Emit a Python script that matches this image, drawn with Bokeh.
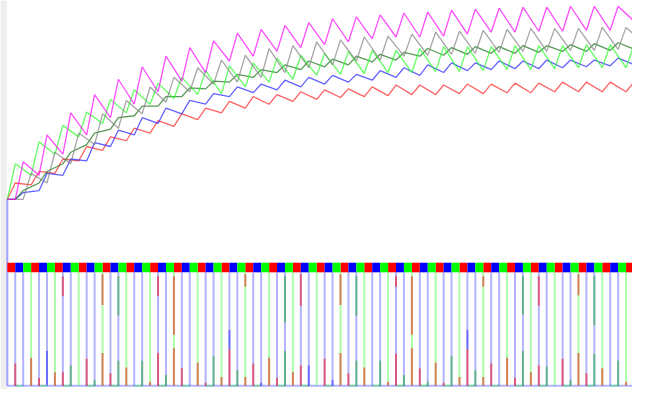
from bokeh.plotting import figure
from bokeh.models import Range1d
from bokeh.embed import file_html
from bokeh.resources import INLINE

# ---- schedule: start of each dosing cycle (red slot), slot length ----
cycle_start = [7, 31.4, 55.8, 80.2, 104.6, 129, 153.4, 177.8, 202.2, 226.6, 251,
               275.4, 299.8, 324.2, 348.6, 373, 397.4, 421.8, 446.2, 470.6, 495,
               519.4, 543.8, 568.2, 592.6, 617, 641.4]
slot = 8.13
x_end = 648
base_level = 207      # level where all concentration curves start
pulse_top = 273       # dose bar band
pulse_bar = 283
pulse_base = 401

# ---- concentration series (levels; screen-down units) ----
# slot 0 = red slot, 1 = blue slot, 2 = green slot
magenta_trough = [207, 182, 160, 140, 122, 108, 95, 84, 75, 63, 58, 53, 49, 46, 43, 40, 38, 38, 37, 35, 33, 33, 32, 32, 31, 31]
magenta_peak   = [168, 140, 117, 98, 82, 69, 58, 49, 42, 34, 30, 26, 23, 19, 17, 15, 13, 12, 10, 9, 8, 7, 7, 6, 6, 6]
magenta_last = 20

gray_trough = [207, 190, 170, 150, 133, 118, 106, 95, 87, 85, 80, 75, 70, 67, 63, 62, 58, 57, 56, 55, 54, 53, 53, 52, 52, 51]
gray_peak   = [180, 158, 138, 118, 104, 90, 80, 70, 62, 57, 50, 47, 43, 41, 38, 37, 35, 33, 32, 31, 30, 29, 29, 29, 28, 28]
gray_last = 34

lgreen_trough = [207, 182, 160, 142, 128, 117, 108, 102, 98, 97, 90, 85, 82, 78, 77, 76, 75, 75, 74, 74, 73, 72, 72, 71, 70, 70, 70]
lgreen_peak   = [170, 147, 130, 116, 103, 93, 86, 80, 73, 68, 65, 60, 57, 55, 53, 52, 52, 50, 48, 48, 48, 47, 47, 47, 46, 46, 46]
lgreen_last = 48

dgreen_trough = [207, 190, 170, 150, 134, 120, 110, 100, 92, 85, 80, 75, 72, 69, 67, 64, 62, 58, 57, 56, 55, 55, 54, 53, 53, 52]
dgreen_peak   = [198, 178, 158, 138, 122, 110, 100, 91, 84, 77, 72, 67, 63, 61, 58, 56, 54, 50, 49, 48, 48, 47, 47, 46, 45, 44]
dgreen_last = 50

blue_trough = [207, 198, 182, 167, 152, 140, 128, 118, 108, 100, 96, 93, 90, 87, 85, 83, 80, 78, 75, 73, 72, 71, 71, 70, 69, 68]
blue_peak   = [200, 180, 165, 148, 135, 122, 112, 104, 97, 90, 87, 83, 80, 78, 77, 73, 70, 67, 65, 65, 63, 63, 62, 62, 62, 60]
blue_last = 66

red_trough = [207, 192, 180, 167, 156, 146, 138, 131, 124, 117, 112, 108, 105, 103, 101, 100, 99, 98, 98, 97, 97, 96, 96, 95, 95, 95, 95]
red_peak   = [190, 178, 165, 152, 142, 133, 125, 118, 112, 105, 100, 98, 95, 93, 92, 90, 88, 88, 88, 87, 87, 86, 86, 85, 85, 85, 85]
red_last = 86

# ---- dose pulse overlays: boundary index, top level, bottom level, colour code ----
seg_j   = [1, 3, 4, 5, 6, 7, 7, 8, 10, 11, 12, 12, 13, 14, 14, 15, 17, 18, 19, 19, 20, 21, 21, 22, 24, 25,
           26, 27, 28, 28, 29, 30, 30, 31, 32, 33, 34, 35, 35, 36, 37, 37, 38, 40, 41, 42, 42, 43, 44, 44, 45, 47, 48, 49, 49, 50, 51, 51, 52,
           53, 54, 55, 56, 57, 58, 58, 59, 60, 60, 61, 63, 64, 65, 65, 66, 67, 67, 68, 70, 71, 72, 72, 73, 74, 74, 75, 77, 78]
seg_top = [378, 372, 393, 365, 387, 287, 387, 380, 373, 395, 285, 367, 388, 287, 375, 382, 375, 397, 287, 367, 390, 287, 362, 383, 377, 398,
           370, 392, 343, 363, 385, 285, 392, 378, 398, 372, 393, 287, 365, 387, 285, 380, 380, 373, 395, 285, 367, 388, 287, 375, 382, 375, 397, 287, 368, 390, 287, 362, 383,
           397, 377, 398, 370, 392, 343, 363, 385, 287, 392, 378, 372, 393, 287, 365, 387, 287, 380, 381, 373, 395, 285, 367, 388, 287, 368, 383, 375, 397]
seg_bot = [401, 401, 401, 400, 401, 308, 401, 401, 401, 401, 317, 401, 401, 328, 401, 401, 401, 401, 308, 401, 401, 348, 401, 401, 401, 401,
           401, 401, 363, 401, 401, 298, 401, 401, 401, 401, 401, 335, 401, 401, 318, 401, 401, 401, 401, 317, 401, 401, 328, 401, 401, 401, 401, 298, 401, 401, 348, 401, 401,
           401, 401, 401, 401, 401, 363, 401, 401, 298, 401, 401, 401, 401, 327, 401, 401, 318, 401, 401, 401, 401, 307, 401, 401, 338, 401, 401, 401, 401]
seg_c   = ["r", "r", "r", "b", "r", "r", "r", "g", "r", "g", "r", "r", "r", "g", "g", "r", "g", "r", "r", "r", "g", "r", "r", "r", "r", "r",
           "g", "r", "b", "r", "g", "r", "r", "r", "b", "r", "r", "g", "g", "r", "r", "r", "b", "r", "b", "r", "r", "r", "g", "g", "r", "g", "r", "r", "r", "g", "r", "r", "r",
           "g", "r", "r", "g", "r", "b", "r", "g", "r", "r", "r", "r", "r", "g", "g", "r", "r", "r", "g", "r", "g", "r", "r", "r", "g", "g", "r", "g", "r"]

# ---------------------------------------------------------------------------
p = figure(width=632, height=389, output_backend="svg", toolbar_location=None,
           x_range=Range1d(0, x_end), y_range=Range1d(405, 0),
           min_border=0, outline_line_color=None)
p.axis.visible = False
p.grid.visible = False
p.background_fill_color = "white"

# left grey strip
p.quad(left=[0], right=[6.5], top=[0], bottom=[405], fill_color="#eeeeee", line_color=None)

# boundaries of the dose slots
bounds = []
for c in cycle_start:
    for s in range(3):
        bounds.append(c + s * slot)
bounds.append(cycle_start[-1] + 3 * slot)

# baseline
p.line([bounds[0], x_end], [pulse_base, pulse_base], line_color="#0000ff", line_alpha=0.3, line_width=2)
gl, gr = [], []
for i in range(len(bounds) - 1):
    if i % 3 == 1:
        gl.append(bounds[i]); gr.append(bounds[i + 1])
p.segment(x0=gl, x1=gr, y0=[pulse_base] * len(gl), y1=[pulse_base] * len(gl),
          line_color="#00ff00", line_alpha=0.3, line_width=2)

# vertical pulse lines
bx, gx = [], []
for j, b in enumerate(bounds):
    if j == 0:
        continue
    (gx if j % 3 == 0 else bx).append(b)
p.segment(x0=gx, x1=gx, y0=[pulse_bar] * len(gx), y1=[pulse_base] * len(gx),
          line_color="#00ff00", line_alpha=0.33, line_width=2)
p.segment(x0=bx, x1=bx, y0=[pulse_bar] * len(bx), y1=[pulse_base] * len(bx),
          line_color="#0000ff", line_alpha=0.3, line_width=2)
p.line([bounds[0], bounds[0]], [base_level, pulse_base], line_color="#0000ff", line_alpha=0.35, line_width=2)

# overlays
cmap = {"r": ("#ff0000", 0.5), "g": ("#00b000", 0.45), "b": ("#0000ff", 0.4)}
for code in "rgb":
    xs = [bounds[j] for j, c in zip(seg_j, seg_c) if c == code]
    y0 = [t for t, c in zip(seg_top, seg_c) if c == code]
    y1 = [b for b, c in zip(seg_bot, seg_c) if c == code]
    p.segment(x0=xs, x1=xs, y0=y0, y1=y1, line_color=cmap[code][0],
              line_alpha=cmap[code][1], line_width=2)

# dose band blocks
cols = ["#ff0000", "#0000ff", "#00ff00"]
for s in range(3):
    l = [bounds[i] for i in range(len(bounds) - 1) if i % 3 == s]
    r = [bounds[i + 1] for i in range(len(bounds) - 1) if i % 3 == s]
    p.quad(left=l, right=r, top=[pulse_top] * len(l), bottom=[pulse_bar] * len(l),
           fill_color=cols[s], line_color=None)


def saw(offset, troughs, peaks, last):
    xs = [cycle_start[0]]
    ys = [base_level]
    for k, (tr, pk) in enumerate(zip(troughs, peaks)):
        t = cycle_start[k] + offset * slot
        if t > x_end:
            break
        xs += [t, t + slot]
        ys += [tr, pk]
    xs.append(x_end)
    ys.append(last)
    return xs, ys


series = [
    (0, red_trough, red_peak, red_last, "#ff2020"),
    (1, blue_trough, blue_peak, blue_last, "#2020ff"),
    (1, dgreen_trough, dgreen_peak, dgreen_last, "#107010"),
    (0, lgreen_trough, lgreen_peak, lgreen_last, "#20ff20"),
    (2, gray_trough, gray_peak, gray_last, "#808080"),
    (1, magenta_trough, magenta_peak, magenta_last, "#ff00ff"),
]
for off, tr, pk, last, col in series:
    xs, ys = saw(off, tr, pk, last)
    p.line(xs, ys, line_color=col, line_alpha=0.7, line_width=1.3)

open("out.html", "w").write(file_html(p, INLINE))
